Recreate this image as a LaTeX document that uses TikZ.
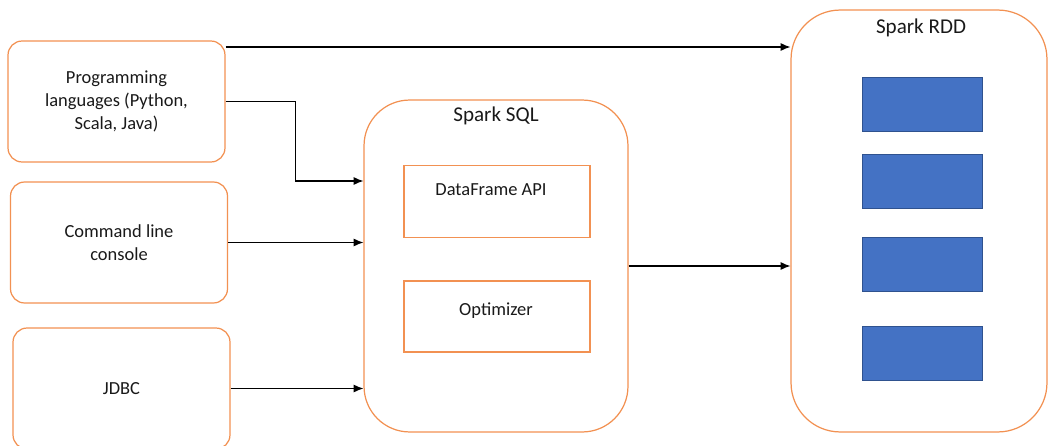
\documentclass[tikz,border=0pt]{standalone}
\usepackage{fontspec}
\setmainfont{Carlito}
\usetikzlibrary{positioning,arrows.meta}
\definecolor{sparkorange}{RGB}{242,145,82}
\definecolor{rddblue}{RGB}{68,114,196}
\definecolor{rddedge}{RGB}{47,82,143}

\begin{document}
\begin{tikzpicture}[x = 0.02cm, y = -0.02cm, -{Latex[length = 5.6pt, width = 4.6pt]}, semithick,
                    every node/.style = {text = black!90,
                                         font = \fontsize{10.5}{13}\selectfont},
                    source/.style = {rectangle,
                                     rounded corners = 8pt,
                                     draw = sparkorange,
                                     line width = 0.7pt,
                                     align = center,
                                     minimum width = 4.34cm,
                                     minimum height = 2.42cm},
                    layer/.style = {source,
                                    rounded corners = 26pt},
                    part/.style = {rectangle,
                                   draw = sparkorange,
                                   line width = 0.7pt,
                                   minimum width = 3.72cm,
                                   minimum height = 1.44cm},
                    block/.style = {rectangle,
                                    fill = rddblue,
                                    draw = rddedge,
                                    thin,
                                    minimum width = 2.4cm,
                                    minimum height = 1.08cm},
                    title/.style = {font = \fontsize{12}{14}\selectfont}]

\useasboundingbox (0,0) rectangle (1048,446);

% sources
\node[source] (prog) at (116.5,101.5) {Programming\\languages (Python,\\Scala, Java)};
\node[source] (cmd)  at (119,242.5)   {Command line\\console};
\node[source] (jdbc) at (121.5,388.5) {JDBC};

% spark sql
\node[layer, minimum width = 5.28cm, minimum height = 6.64cm] (sql) at (496,266) {};
\node[title] (sqltitle) at (496,116) {Spark SQL};
\node[part] (df)  at (497,201.5) {};
\node (dftext) at (491,190) {DataFrame API};
\node[part, minimum height = 1.42cm] (opt) at (497,316.5) {};
\node (opttext) at (496,311) {Optimizer};

% spark rdd
\node[layer, rounded corners = 28pt, minimum width = 5.12cm, minimum height = 8.44cm] (rdd) at (919,221) {};
\node[title] (rddtitle) at (921,28) {Spark RDD};
\node[block] (b1) at (922,104)   {};
\node[block] (b2) at (922,181.5) {};
\node[block] (b3) at (922,264.5) {};
\node[block] (b4) at (922,353)   {};

% connections
\draw (prog.east |- 0,47) -- (rdd.west |- 0,47);
\draw (prog.east) -- ++(70,0) |- (sql.west |- 0,181);
\draw (cmd.east)  -- (sql.west |- cmd.east);
\draw (jdbc.east) -- (sql.west |- jdbc.east);
\draw (sql.east)  -- (rdd.west |- sql.east);

\end{tikzpicture}
\end{document}
